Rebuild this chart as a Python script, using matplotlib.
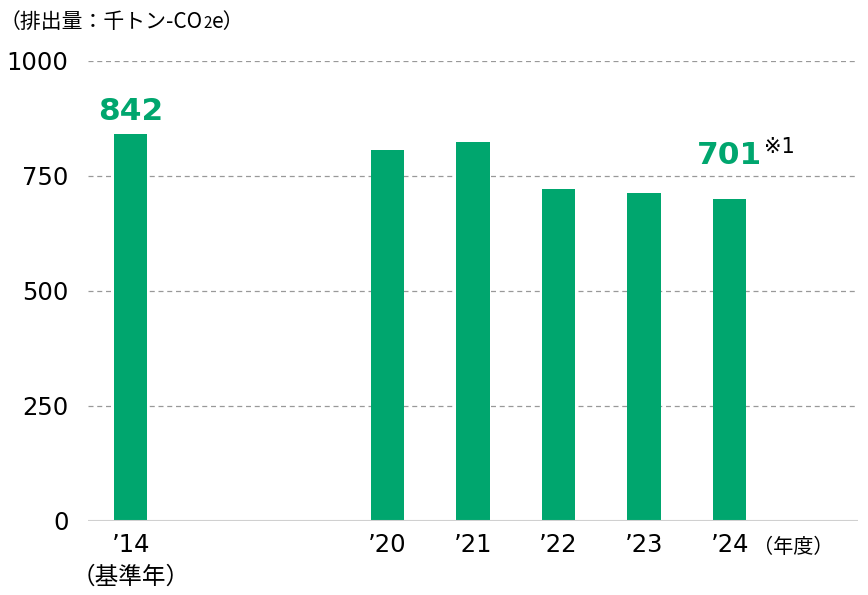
import matplotlib.pyplot as plt

plt.rcParams['font.family'] = ['DejaVu Sans', 'Noto Sans CJK JP']

# データ
years = ['’14', '’20', '’21', '’22', '’23', '’24']
positions = [0, 3, 4, 5, 6, 7]
emissions = [842, 806, 824, 722, 713, 701]
yticks = [0, 250, 500, 750, 1000]

green = '#00A66E'
jp = ['Noto Sans CJK JP', 'DejaVu Sans']

fig = plt.figure(figsize=(8.68, 5.95), dpi=100)
ax = fig.add_axes([0.1014, 0.1244, 0.887, 0.7731])

ax.bar(positions, emissions, width=0.39, color=green, zorder=3)

ax.set_xlim(-0.5, 8.5)
ax.set_ylim(0, 1000)
ax.set_yticks(yticks)
ax.set_yticklabels([str(v) for v in yticks], fontsize=17.5)
ax.tick_params(axis='y', length=0, pad=14)
ax.set_xticks(positions)
ax.set_xticklabels(years, fontsize=17.5)
ax.tick_params(axis='x', length=0, pad=9)

for v in yticks[1:]:
    ax.axhline(v, color='#999999', lw=0.9, ls=(0, (4, 3)), zorder=1)
ax.axhline(0, color='#d0d0d0', lw=1.5, zorder=4)
for s in ax.spines.values():
    s.set_visible(False)

# 数値ラベル
ax.annotate(str(emissions[0]), xy=(positions[0], emissions[0]), xytext=(0, 10),
            textcoords='offset points', color=green, fontsize=22.5,
            fontweight='bold', ha='center', va='baseline')
ax.annotate(str(emissions[-1]), xy=(positions[-1], emissions[-1]), xytext=(0, 24.5),
            textcoords='offset points', color=green, fontsize=22.5,
            fontweight='bold', ha='center', va='baseline')
ax.annotate('※1', xy=(positions[-1], emissions[-1]), xytext=(25, 32.5),
            textcoords='offset points', fontsize=15, ha='left', va='baseline')

ax.text(positions[0], -0.122, '（基準年）', transform=ax.get_xaxis_transform(),
        fontsize=17, ha='center', va='center', family=jp)
ax.text(positions[-1] + 0.27, -0.0587, '（年度）', transform=ax.get_xaxis_transform(),
        fontsize=14.5, ha='left', va='center', family=jp)

# 単位（CO2の2は小さく）
t1 = fig.text(0.0, 0.963, '（排出量：千トン-CO', fontsize=15, ha='left',
              va='center', family=jp)
t2 = ax.annotate('2', xy=(1, 0.04), xycoords=t1, fontsize=11, ha='left',
                 va='bottom', family=jp, annotation_clip=False)
t3 = ax.annotate('e）', xy=(1, 0), xycoords=(t2, t1), fontsize=15, ha='left',
                 va='bottom', family=jp, annotation_clip=False)

fig.savefig('out.png', dpi=100)
